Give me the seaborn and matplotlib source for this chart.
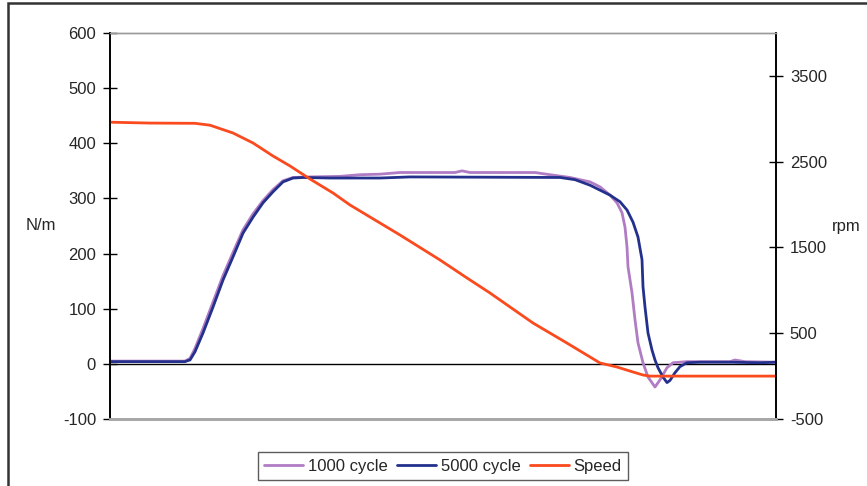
import pandas as pd
import matplotlib
matplotlib.use("Agg")
import matplotlib.pyplot as plt
import seaborn as sns
from matplotlib.patches import Rectangle

# ---- data (time in samples) ----
t_1000 = [0, 75, 80, 85, 93, 103, 113, 123, 133, 143, 153, 163, 173, 183, 200, 230, 250, 270,
          290, 345, 352, 360, 425, 440, 460, 480, 490, 500, 507, 512, 515, 517, 518, 522,
          525, 528, 533, 538, 545, 550, 557, 563, 577, 620, 625, 635, 666]
torque_1000 = [5, 5, 10, 28, 64, 112, 160, 202, 243, 272, 296, 316, 332, 338, 339, 340, 343, 344,
               347, 347, 350, 347, 347, 343, 338, 330, 321, 306, 292, 274, 248, 212, 176, 129,
               80, 38, 2, -24, -42, -29, -7, 2, 4, 4, 7, 4, 3]

t_5000 = [0, 75, 78, 80, 85, 93, 103, 113, 123, 133, 143, 153, 163, 173, 183, 193, 220, 270,
          300, 450, 465, 480, 490, 500, 510, 517, 523, 528, 532, 533, 535, 538, 542, 545,
          548, 553, 557, 560, 565, 570, 577, 590, 620, 650, 666]
torque_5000 = [4, 4, 6, 7, 22, 56, 103, 152, 194, 237, 266, 292, 312, 330, 337, 338, 337, 337,
               339, 338, 334, 324, 315, 306, 294, 279, 257, 230, 189, 140, 103, 56, 25, 7,
               -7, -24, -34, -30, -16, -5, 2, 3, 3, 2, 3]

t_speed = [0, 20, 40, 85, 100, 123, 143, 163, 180, 200, 223, 240, 260, 290, 330, 357, 380,
           423, 457, 490, 507, 523, 533, 540, 666]
speed = [2960, 2955, 2950, 2947, 2925, 2834, 2718, 2566, 2450, 2298, 2135, 1995, 1855, 1645,
         1354, 1144, 969, 619, 385, 153, 106, 48, 13, 0, 0]

left_ticks = [-100, 0, 100, 200, 300, 400, 500, 600]
right_ticks = [-500, 500, 1500, 2500, 3500]

c_1000 = "#B07CC4"
c_5000 = "#23318C"
c_speed = "#FA4A1E"

df_1000 = pd.DataFrame({"t": t_1000, "torque": torque_1000})
df_5000 = pd.DataFrame({"t": t_5000, "torque": torque_5000})
df_speed = pd.DataFrame({"t": t_speed, "rpm": speed})

sns.set_style("white")
plt.rcParams["font.family"] = ["Liberation Sans", "DejaVu Sans"]
plt.rcParams["axes.unicode_minus"] = False

fig = plt.figure(figsize=(8.67, 4.86), dpi=100)
ax = fig.add_axes([110 / 867, 67 / 486, 666 / 867, 386 / 486])
ax2 = ax.twinx()

ax.axhline(0, color="black", lw=1, zorder=1)
sns.lineplot(data=df_1000, x="t", y="torque", ax=ax, color=c_1000, lw=2.0,
             label="1000 cycle", sort=False, zorder=2)
sns.lineplot(data=df_5000, x="t", y="torque", ax=ax, color=c_5000, lw=2.0,
             label="5000 cycle", sort=False, zorder=3)
sns.lineplot(data=df_speed, x="t", y="rpm", ax=ax2, color=c_speed, lw=2.0,
             label="Speed", sort=False)

h1, l1 = ax.get_legend_handles_labels()
h2, l2 = ax2.get_legend_handles_labels()
for a in (ax, ax2):
    if a.get_legend() is not None:
        a.get_legend().remove()

ax.set_xlim(0, 666)
ax.set_ylim(-100, 600)
ax.set_yticks(left_ticks)
ax2.set_ylim(-500, 4000)
ax2.set_yticks(right_ticks)
ax.set_xticks([])
ax.set_xlabel("")

ax.tick_params(axis="y", direction="inout", length=10, width=1, color="black",
               labelsize=12, pad=5, left=True)
ax2.tick_params(axis="y", direction="inout", length=10, width=1, color="black",
                labelsize=12, pad=5, right=True)

ax.set_ylabel("N/m", rotation=0, fontsize=12, ha="center", va="center")
ax.yaxis.set_label_coords(-0.104, 0.5)
ax2.set_ylabel("rpm", rotation=0, fontsize=12, ha="center", va="center")
ax2.yaxis.set_label_coords(1.105, 0.5)

for a in (ax, ax2):
    a.spines["left"].set_color("black")
    a.spines["right"].set_color("black")
    a.spines["left"].set_linewidth(1.2)
    a.spines["right"].set_linewidth(1.2)
    a.spines["top"].set_color("#9A9A9A")
    a.spines["top"].set_linewidth(1)
    a.spines["bottom"].set_color("#A8A8A8")
    a.spines["bottom"].set_linewidth(2)

fig.legend(h1 + h2, l1 + l2, loc="center", bbox_to_anchor=(443 / 867, 1 - 466 / 486),
           ncol=3, fontsize=12, frameon=True, fancybox=False, edgecolor="#333333",
           handlelength=2.3, handletextpad=0.3, columnspacing=0.6,
           borderpad=0.4, borderaxespad=0)
leg = fig.legends[0]
leg.get_frame().set_linewidth(1)

# outer chart border
fig.patches.append(Rectangle((8 / 867, -0.1), 1.2, 1.1 - 3 / 486, transform=fig.transFigure,
                             fill=False, edgecolor="#333333", lw=1.8))

fig.savefig("out.png", dpi=100)
